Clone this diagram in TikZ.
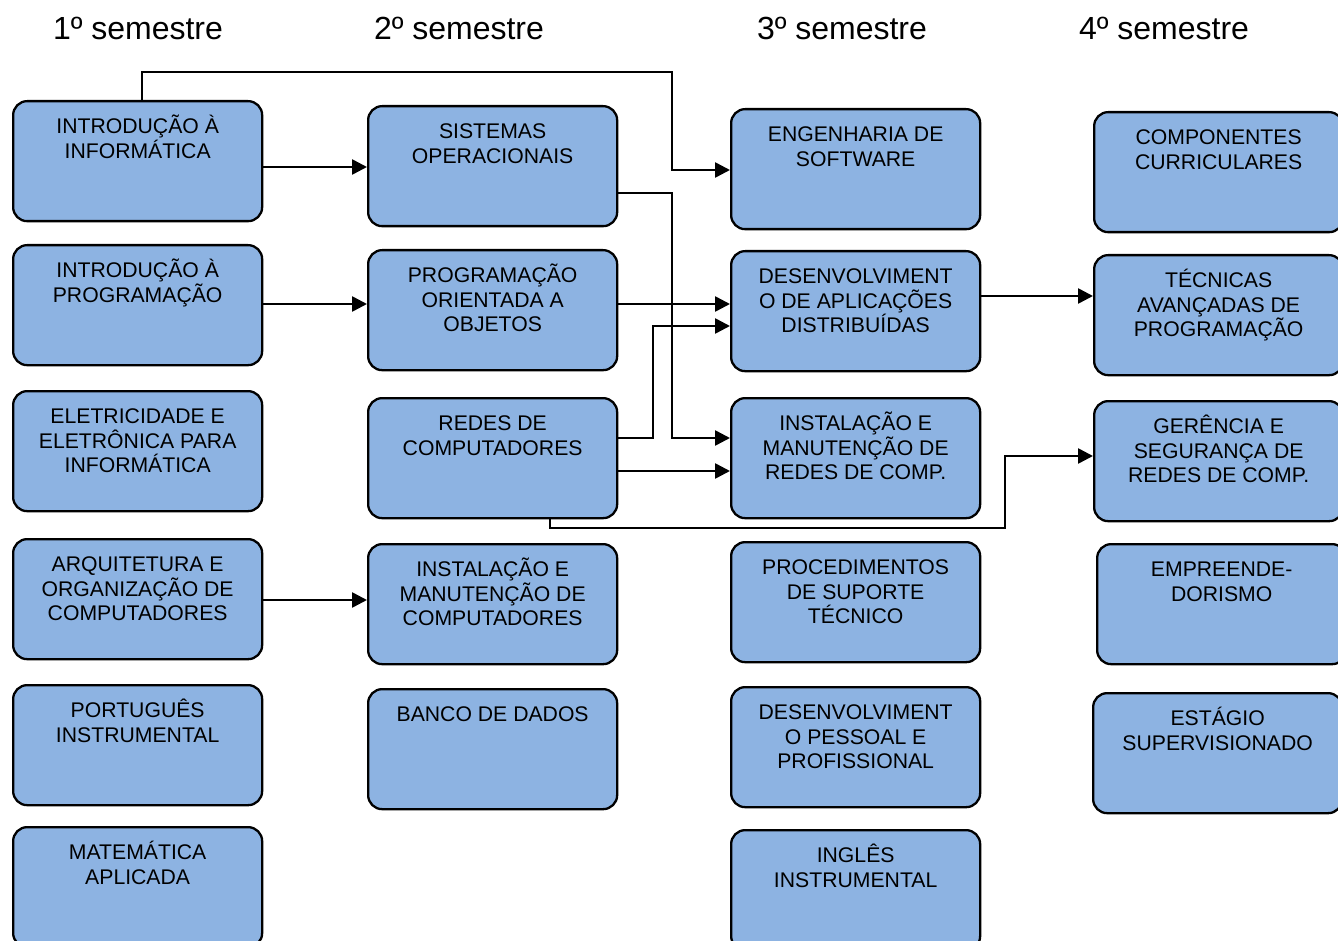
\documentclass[tikz,border=0pt]{standalone}
\usepackage{fontspec}
\setmainfont{Liberation Sans}
\usetikzlibrary{arrows.meta}
\definecolor{boxblue}{RGB}{141,179,226}
\tikzset{
 course/.style={draw=black, line width=2.3pt, fill=boxblue, rounded corners=14pt,
   minimum width=249pt, minimum height=120pt, inner sep=0pt, anchor=north west},
 ctext/.style={anchor=north, inner sep=0pt, align=center, font=\fontsize{21.2}{24.5}\selectfont},
 head/.style={anchor=base, inner sep=0pt, font=\fontsize{32}{36}\selectfont},
 link/.style={line width=2.6pt, -{Triangle[length=15pt,width=15pt]}},
}
\newcommand\coursebox[3]{%
 \node[course] (#1) at (#2) {};
 \node[ctext] (#1-t) at ([yshift=-13.5pt]#1.north) {\rule{0pt}{20pt}#3};}
\begin{document}
\begin{tikzpicture}[x=1pt,y=-1pt]
\useasboundingbox (0,0) rectangle (1338,941);
\clip (0,0) rectangle (1338,941);
% headers
\node[head] (h1) at (138,40) {1º semestre};
\node[head] (h2) at (459,40) {2º semestre};
\node[head] (h3) at (842,40) {3º semestre};
\node[head] (h4) at (1164,40) {4º semestre};
% column 1
\coursebox{ii}{12,100}{INTRODUÇÃO À\\INFORMÁTICA}
\coursebox{ip}{12,244}{INTRODUÇÃO À\\PROGRAMAÇÃO}
\coursebox{ee}{12,390}{ELETRICIDADE E\\ELETRÔNICA PARA\\INFORMÁTICA}
\coursebox{aq}{12,538}{ARQUITETURA E\\ORGANIZAÇÃO DE\\COMPUTADORES}
\coursebox{pi}{12,684}{PORTUGUÊS\\INSTRUMENTAL}
\coursebox{ma}{12,826}{MATEMÁTICA\\APLICADA}
% column 2
\coursebox{so}{367,105}{SISTEMAS\\OPERACIONAIS}
\coursebox{poo}{367,249}{PROGRAMAÇÃO\\ORIENTADA A\\OBJETOS}
\coursebox{rc}{367,397}{REDES DE\\COMPUTADORES}
\coursebox{ic}{367,543}{INSTALAÇÃO E\\MANUTENÇÃO DE\\COMPUTADORES}
\coursebox{bd}{367,688}{BANCO DE DADOS}
% column 3
\coursebox{es}{730,108}{ENGENHARIA DE\\SOFTWARE}
\coursebox{da}{730,250}{DESENVOLVIMENT\\O DE APLICAÇÕES\\DISTRIBUÍDAS}
\coursebox{ir}{730,397}{INSTALAÇÃO E\\MANUTENÇÃO DE\\REDES DE COMP.}
\coursebox{ps}{730,541}{PROCEDIMENTOS\\DE SUPORTE\\TÉCNICO}
\coursebox{dp}{730,686}{DESENVOLVIMENT\\O PESSOAL E\\PROFISSIONAL}
\coursebox{in}{730,829}{INGLÊS\\INSTRUMENTAL}
% column 4
\coursebox{cc}{1093,111}{COMPONENTES\\CURRICULARES}
\coursebox{ta}{1093,254}{TÉCNICAS\\AVANÇADAS DE\\PROGRAMAÇÃO}
\coursebox{gs}{1093,400}{GERÊNCIA E\\SEGURANÇA DE\\REDES DE COMP.}
\coursebox{em}{1096,543}{EMPREENDE-\\DORISMO}
\coursebox{et}{1092,692}{ESTÁGIO\\SUPERVISIONADO}
% connectors
\draw[link] (ii.north -| 142,0) |- (672,72) |- (es.west |- 0,170);
\draw[link] (ii.east |- 0,167) -- (so.west |- 0,167);
\draw[link] (ip.east |- 0,304) -- (poo.west |- 0,304);
\draw[link] (aq.east |- 0,600) -- (ic.west |- 0,600);
\draw[link] (so.east |- 0,193) -| (672,438) -- (ir.west |- 0,438);
\draw[link] (poo.east |- 0,304) -- (da.west |- 0,304);
\draw[link] (rc.east |- 0,438) -| (653,326) -- (da.west |- 0,326);
\draw[link] (rc.east |- 0,471) -- (ir.west |- 0,471);
\draw[link] (rc.south -| 550,0) |- (1005,528) |- (gs.west |- 0,456);
\draw[link] (da.east |- 0,296) -- (ta.west |- 0,296);
\end{tikzpicture}
\end{document}
